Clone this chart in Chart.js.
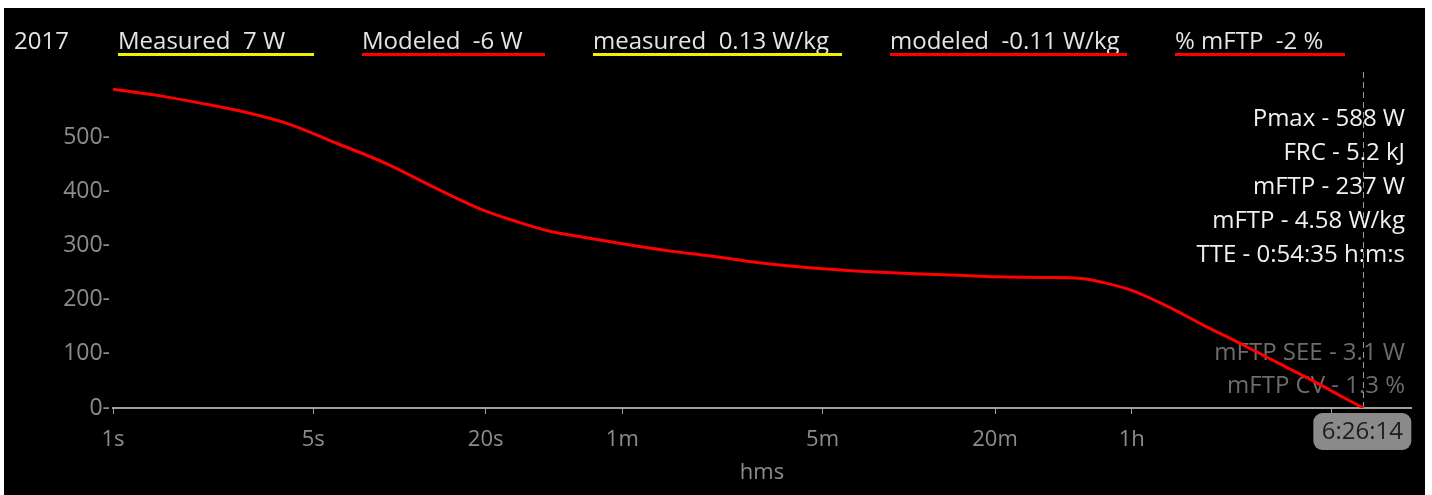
<!DOCTYPE html>
<html>
<head>
<meta charset="utf-8">
<script src="https://cdn.jsdelivr.net/npm/chart.js@4.4.0/dist/chart.umd.min.js"></script>
<style>
  html, body { margin: 0; padding: 0; background: #ffffff; }
  body { width: 1432px; height: 495px; position: relative; overflow: hidden; }
  #wrap { position: absolute; left: 4px; top: 8px; width: 1421px; height: 487px; background: #000; }
  #chart { position: absolute; left: 0; top: 0; }
  .hdr { position: absolute; top: 15px; line-height: 28px; font: 24px "Open Sans", sans-serif; color: #e4e4e4; white-space: pre; }
  .line { position: absolute; top: 45px; height: 3px; }
</style>
</head>
<body>
<div id="wrap">
  <canvas id="chart" width="1421" height="487"></canvas>
</div>
<script>
// power-duration curve (seconds -> watts)
const durations = [1, 1.5, 2, 3, 4, 6, 9, 13, 19, 26, 33, 45, 60, 90, 120, 180, 300, 420, 600, 900, 1200, 1800, 2400, 3000, 3600, 5000, 6400, 8400, 12000, 16000, 20000, 23174];
const watts = [588, 575, 563, 544, 526, 489, 451, 409, 368, 343, 327, 314, 303, 289, 281, 268, 257, 252, 248, 245, 242, 241, 239, 229, 217, 183, 153, 122, 80, 46, 18, 0];

const tickSeconds = [1, 5, 20, 60, 300, 1200, 3600, 18000];
const tickLabels = ['1s', '5s', '20s', '1m', '5m', '20m', '1h', ''];
const yTicks = [0, 100, 200, 300, 400, 500];

const endSeconds = 23174;
const endLabel = '6:26:14';

const statLines = ['Pmax - 588 W', 'FRC - 5.2 kJ', 'mFTP - 237 W', 'mFTP - 4.58 W/kg', 'TTE - 0:54:35 h:m:s'];
const fitLines = ['mFTP SEE - 3.1 W', 'mFTP CV - 1.3 %'];

const headerYear = '2017';
const headerNames = ['Measured', 'Modeled', 'measured', 'modeled', '% mFTP'];
const headerValues = ['7 W', '-6 W', '0.13 W/kg', '-0.11 W/kg', '-2 %'];
const headerColors = ['#f0f000', '#ff0000', '#f0f000', '#ff0000', '#ff0000'];

// header row
const wrap = document.getElementById('wrap');
const hLeft = [114, 358, 589, 886, 1171];
const hWidth = [196, 183, 249, 237, 170];
const year = document.createElement('div');
year.className = 'hdr';
year.style.left = '10px';
year.textContent = headerYear;
wrap.appendChild(year);
headerNames.forEach((n, i) => {
    const t = document.createElement('div');
    t.className = 'hdr';
    t.style.left = hLeft[i] + 'px';
    t.textContent = n + '  ' + headerValues[i];
    wrap.appendChild(t);
    const u = document.createElement('div');
    u.className = 'line';
    u.style.left = hLeft[i] + 'px';
    u.style.width = hWidth[i] + 'px';
    u.style.background = headerColors[i];
    wrap.appendChild(u);
});

const FONT = '"Open Sans", sans-serif';

// extra drawing: stats text, end marker line and label box
const overlay = {
    id: 'overlay',
    beforeDatasetsDraw(chart) {
        const { ctx, chartArea } = chart;
        ctx.save();
        ctx.font = '24px ' + FONT;
        ctx.fillStyle = '#6c6c6c';
        ctx.textAlign = 'right';
        ctx.textBaseline = 'middle';
        fitLines.forEach((s, i) => ctx.fillText(s, chartArea.right - 6, 345 + i * 33));
        // dashed end marker
        const x = Math.round(chart.scales.x.getPixelForValue(endSeconds)) + 0.5;
        ctx.strokeStyle = '#9a9a9a';
        ctx.lineWidth = 1;
        ctx.setLineDash([6, 4]);
        ctx.beginPath();
        ctx.moveTo(x, chartArea.top);
        ctx.lineTo(x, chartArea.bottom);
        ctx.stroke();
        ctx.restore();
    },
    afterDraw(chart) {
        const { ctx, chartArea } = chart;
        ctx.save();
        ctx.font = '24px ' + FONT;
        ctx.fillStyle = '#f0f0f0';
        ctx.textAlign = 'right';
        ctx.textBaseline = 'middle';
        statLines.forEach((s, i) => ctx.fillText(s, chartArea.right - 6, 111 + i * 34));
        // end label box
        const x = chart.scales.x.getPixelForValue(endSeconds);
        const w = 98, h = 37, top = chartArea.bottom + 5;
        ctx.fillStyle = '#8a8a8a';
        ctx.beginPath();
        ctx.roundRect(x - w / 2 - 1, top, w, h, 9);
        ctx.fill();
        ctx.fillStyle = '#1e1e1e';
        ctx.textAlign = 'center';
        ctx.fillText(endLabel, x - 1, top + h / 2 + 1);
        ctx.restore();
    }
};

new Chart(document.getElementById('chart'), {
    type: 'line',
    data: {
        datasets: [{
            data: durations.map((d, i) => ({ x: d, y: watts[i] })),
            borderColor: '#ff0000',
            borderWidth: 3,
            pointRadius: 0,
            cubicInterpolationMode: 'monotone',
            fill: false
        }]
    },
    options: {
        responsive: false,
        animation: false,
        layout: { padding: { top: 64, right: 14, left: 0, bottom: 0 } },
        plugins: { legend: { display: false }, tooltip: { enabled: false } },
        scales: {
            x: {
                type: 'logarithmic',
                min: 1,
                max: 34000,
                afterBuildTicks: (scale) => { scale.ticks = tickSeconds.map(v => ({ value: v })); },
                afterFit: (scale) => { scale.height = 87; },
                border: { display: true, color: '#a0a0a0', width: 2 },
                grid: { drawOnChartArea: false, drawTicks: true, tickLength: 6, color: '#a0a0a0' },
                ticks: {
                    color: '#8c8c8c',
                    font: { family: FONT, size: 22 },
                    padding: 13,
                    maxRotation: 0,
                    autoSkip: false,
                    callback: (v, i) => tickLabels[i]
                },
                title: {
                    display: true,
                    text: 'hms',
                    color: '#8c8c8c',
                    font: { family: FONT, size: 22 },
                    padding: { top: 0, bottom: 9 }
                }
            },
            y: {
                min: 0,
                max: 620,
                afterBuildTicks: (scale) => { scale.ticks = yTicks.map(v => ({ value: v })); },
                afterFit: (scale) => { scale.width = 109; },
                border: { display: false },
                grid: { display: false, drawTicks: false },
                ticks: {
                    color: '#8c8c8c',
                    font: { family: FONT, size: 23 },
                    padding: 3,
                    callback: (v) => v + '-'
                }
            }
        }
    },
    plugins: [overlay]
});
</script>
</body>
</html>
